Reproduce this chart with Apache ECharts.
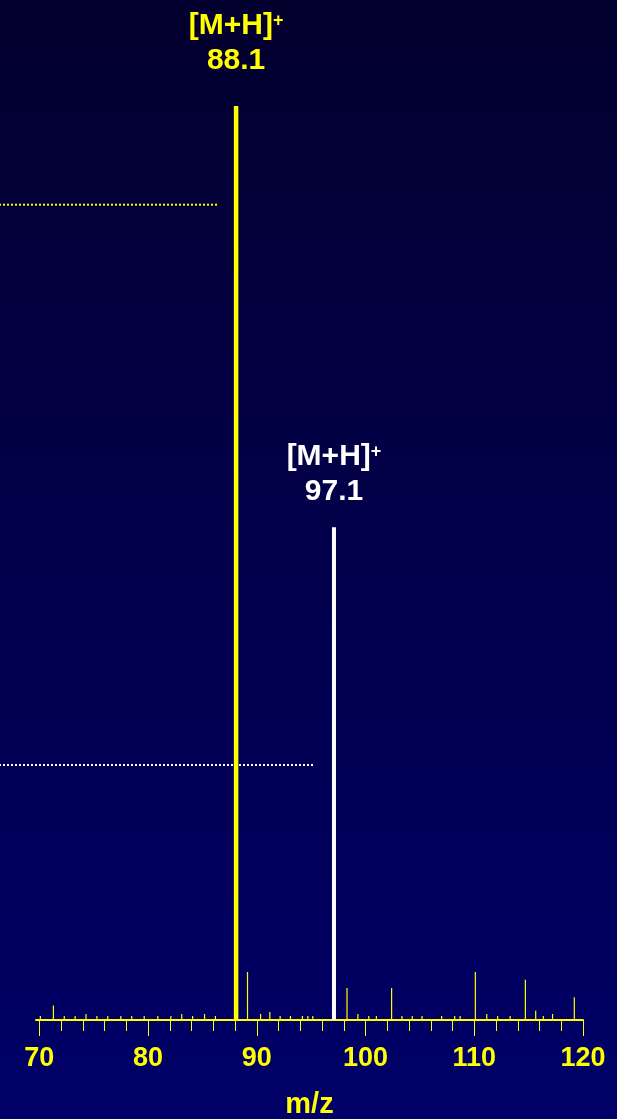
<!DOCTYPE html>
<html><head><meta charset="utf-8">
<script src="https://cdn.jsdelivr.net/npm/echarts@6/dist/echarts.min.js"></script>
<style>html,body{margin:0;padding:0;background:#01004a;} #c{width:617px;height:1119px;}</style>
</head><body><div id="c"></div>
<script>
// ---- data ----
const majorTicks = [70, 80, 90, 100, 110, 120];
const minorTicks = [72, 74, 76, 78, 82, 84, 86, 88, 92, 94, 96, 98, 102, 104, 106, 108, 112, 114, 116, 118];
const yellowPeak = [[88.1, 100]];
const yellowPeakLabel = ['[M+H]', '+', '88.1'];
const whitePeak = [[97.1, 53.9]];
const whitePeakLabel = ['[M+H]', '+', '97.1'];
const minorPeakMz = [70.1, 71.3, 72.3, 73.3, 74.3, 75.3, 76.3, 77.5, 78.5, 79.65, 80.9, 82.1, 83.1, 84.1, 85.2, 86.2,
  89.15, 90.35, 91.2, 92.15, 93.1, 94.2, 94.7, 95.15, 98.3, 99.3, 100.3, 101.0, 102.4, 103.35, 104.3, 105.2,
  107.0, 108.2, 108.7, 110.1, 111.15, 112.15, 113.3, 114.7, 115.65, 116.35, 117.2, 119.2];
const minorPeakInt = [0.44, 1.6, 0.44, 0.44, 0.66, 0.44, 0.44, 0.44, 0.44, 0.44, 0.44, 0.44, 0.66, 0.44, 0.66, 0.44,
  5.25, 0.66, 0.88, 0.44, 0.44, 0.44, 0.44, 0.44, 3.5, 0.66, 0.44, 0.44, 3.5, 0.44, 0.44, 0.44,
  0.44, 0.44, 0.44, 5.25, 0.66, 0.44, 0.44, 4.4, 1.0, 0.44, 0.66, 2.5];
// reference lines: [startMz, endMz, intensity]
const yellowRefLine = [[66.3, 86.45, 89.2]];
const whiteRefLine = [[66.3, 95.2, 27.9]];

// ---- styles ----
const YELLOW = '#ffff00';
const WHITE = '#ffffff';
const FONT = 'Liberation Sans, Arial, sans-serif';

function makePeak(width, color, label, gap) {
  return function (params, api) {
    const x = api.value(0), y = api.value(1);
    const top = api.coord([x, y]);
    const base = api.coord([x, 0]);
    const children = [{
      type: 'rect',
      shape: { x: top[0] - width / 2, y: top[1], width: width, height: base[1] - top[1] },
      style: { fill: color }
    }];
    if (label) {
      children.push({
        type: 'text',
        x: top[0], y: top[1] - gap,
        style: {
          text: '{a|' + label[0] + '}{s|' + label[1] + '}\n{a|' + label[2] + '}',
          align: 'center', verticalAlign: 'bottom', fill: color,
          rich: {
            a: { fontSize: 30, fontWeight: 'bold', fontFamily: FONT, lineHeight: 35, fill: color },
            s: { fontSize: 18, fontWeight: 'bold', fontFamily: FONT, lineHeight: 18, verticalAlign: 'top', padding: [4, 0, 0, 0], fill: color }
          }
        }
      });
    }
    return { type: 'group', children: children };
  };
}

function makeRefLine(color) {
  return function (params, api) {
    const p1 = api.coord([api.value(0), api.value(2)]);
    const p2 = api.coord([api.value(1), api.value(2)]);
    return {
      type: 'line',
      shape: { x1: p1[0], y1: p1[1], x2: p2[0], y2: p2[1] },
      style: { stroke: color, lineWidth: 2, lineDash: [2, 2] }
    };
  };
}

const chart = echarts.init(document.getElementById('c'), null, { renderer: 'canvas' });
chart.setOption({
  animation: false,
  backgroundColor: {
    type: 'linear', x: 0, y: 0, x2: 0, y2: 1,
    colorStops: [{ offset: 0, color: '#03002e' }, { offset: 1, color: '#000068' }]
  },
  grid: { left: 36, right: 34, top: 106, bottom: 99, containLabel: false, outerBoundsMode: 'none' },
  xAxis: [{
    type: 'value', min: 69.7, max: 120,
    position: 'bottom', offset: 0,
    axisLine: { show: true, lineStyle: { color: YELLOW, width: 2 } },
    axisTick: { show: true, length: 16, customValues: majorTicks, lineStyle: { color: YELLOW, width: 1 } },
    axisLabel: { show: true, customValues: majorTicks, color: YELLOW, fontSize: 27, fontWeight: 'bold', fontFamily: FONT, margin: 25 },
    splitLine: { show: false },
    name: 'm/z', nameLocation: 'middle', nameGap: 70,
    nameTextStyle: { color: YELLOW, fontSize: 29, fontWeight: 'bold', fontFamily: FONT }
  }, {
    type: 'value', min: 69.7, max: 120,
    position: 'bottom', offset: 0,
    axisLine: { show: false },
    axisTick: { show: true, length: 11, customValues: minorTicks, lineStyle: { color: YELLOW, width: 1 } },
    axisLabel: { show: false },
    splitLine: { show: false }
  }],
  yAxis: { type: 'value', min: 0, max: 100, show: false, splitLine: { show: false } },
  series: [
    {
      type: 'custom', data: yellowRefLine, clip: false, silent: true,
      renderItem: makeRefLine(YELLOW)
    },
    {
      type: 'custom', data: whiteRefLine, clip: false, silent: true,
      renderItem: makeRefLine(WHITE)
    },
    {
      type: 'custom', data: minorPeakMz.map((m, i) => [m, minorPeakInt[i]]), clip: false,
      renderItem: makePeak(1.2, YELLOW, null, 0)
    },
    {
      type: 'custom', data: yellowPeak, clip: false,
      renderItem: makePeak(4.5, YELLOW, yellowPeakLabel, 28)
    },
    {
      type: 'custom', data: whitePeak, clip: false,
      renderItem: makePeak(4, WHITE, whitePeakLabel, 18)
    }
  ]
});
</script>
</body></html>
